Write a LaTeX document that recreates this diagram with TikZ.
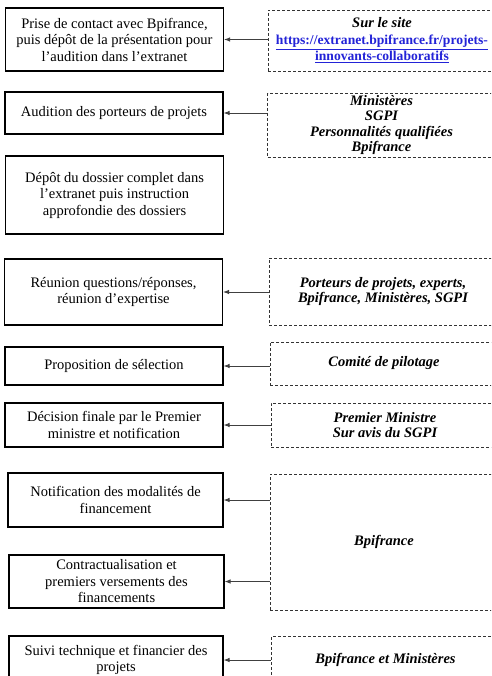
\documentclass[tikz,border=0pt]{standalone}
\usepackage{fontspec}
\setmainfont{Liberation Serif}
\usetikzlibrary{arrows.meta}
\definecolor{linkblue}{RGB}{35,35,215}
\newcommand{\weblink}[1]{{\color{linkblue}\upshape\fontsize{13.6}{16.5}\selectfont\underline{#1}}}

\begin{document}
\begin{tikzpicture}[x=1pt, y=-1pt,
  font=\fontsize{14.5}{16.5}\selectfont,
  stage/.style={draw, line width=1.1pt, minimum width=218pt, align=center, inner sep=1pt},
  actor/.style={draw=black!80, dash pattern=on 3pt off 2pt, line width=0.9pt, minimum width=228pt,
    align=center, inner sep=1pt, font=\fontsize{14.5}{15.5}\selectfont\bfseries\itshape},
  link/.style={<-, >={Latex[length=6pt, width=4.5pt]}, draw=black!75, line width=0.9pt}]

  \useasboundingbox (0,0) rectangle (491,676);
  \clip (0,0) rectangle (491,676);

  % etapes
  \node[stage, minimum height=63pt] (s1) at (114.5,39.5) {Prise de contact avec Bpifrance,\\puis dépôt de la présentation pour\\l'audition dans l'extranet};
  \node[stage, minimum height=42pt] (s2) at (114,113) {Audition des porteurs de projets};
  \node[stage, minimum height=78pt] (s3) at (114.5,195) {Dépôt du dossier complet dans\\l'extranet puis instruction\\approfondie des dossiers};
  \node[stage, minimum height=66pt] (s4) at (113.5,292) {Réunion questions/réponses,\\réunion d'expertise};
  \node[stage, minimum height=38pt] (s5) at (114,366) {Proposition de sélection};
  \node[stage, minimum height=44pt] (s6) at (114,425) {Décision finale par le Premier\\ministre et notification};
  \node[stage, minimum height=54pt, minimum width=215pt] (s7) at (115.5,500) {Notification des modalités de\\financement};
  \node[stage, minimum height=53pt, minimum width=215pt] (s8) at (116.5,581.5) {Contractualisation et\\premiers versements des\\financements};
  \node[stage, minimum height=48pt, minimum width=214pt] (s9) at (116,660) {Suivi technique et financier des\\projets};

  % acteurs
  \node[actor, minimum height=61pt, font=\fontsize{14.5}{16.5}\selectfont\bfseries\itshape] (a1) at (382,40.5)
    {Sur le site\\\weblink{https://extranet.bpifrance.fr/projets-}\\\weblink{innovants-collaboratifs}};
  \node[actor, minimum height=64pt] (a2) at (381.5,125) {Ministères\\SGPI\\Personnalités qualifiées\\Bpifrance};
  \node[actor, minimum height=67pt] (a4) at (383,291.5) {Porteurs de projets, experts,\\Bpifrance, Ministères, SGPI};
  \node[actor, minimum height=43pt] (a5) at (384,363.5) {Comité de pilotage};
  \node[actor, minimum height=44pt] (a6) at (385,425) {Premier Ministre\\Sur avis du SGPI};
  \node[actor, minimum height=136pt] (a7) at (384,542) {Bpifrance};
  \node[actor, minimum height=48pt] (a9) at (385.5,660) {Bpifrance et Ministères};

  % fleches
  \draw[link] (s1.east) -- (a1.west |- s1.east);
  \draw[link] (s2.east) -- (a2.west |- s2.east);
  \draw[link] (s4.east) -- (a4.west |- s4.east);
  \draw[link] (s5.east) -- (a5.west |- s5.east);
  \draw[link] (s6.east) -- (a6.west |- s6.east);
  \draw[link] (s7.east) -- (a7.west |- s7.east);
  \draw[link] (s8.east) -- (a7.west |- s8.east);
  \draw[link] (s9.east) -- (a9.west |- s9.east);
\end{tikzpicture}
\end{document}
